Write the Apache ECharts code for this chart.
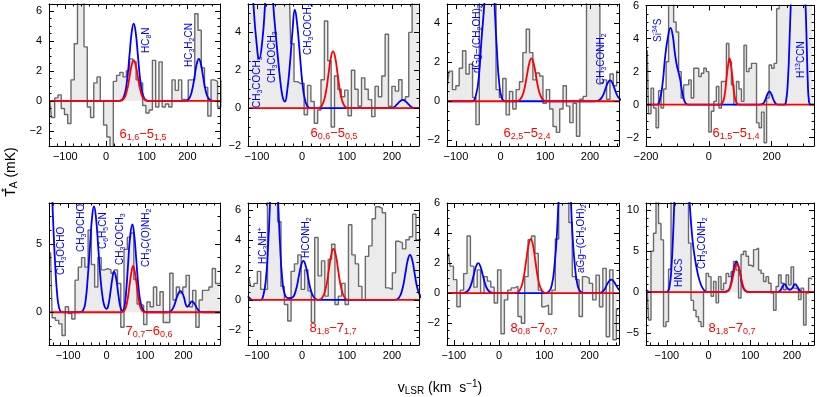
<!DOCTYPE html>
<html>
<head>
<meta charset="utf-8">
<script src="https://cdn.jsdelivr.net/npm/echarts@6/dist/echarts.min.js"></script>
<style>
  html, body { margin: 0; padding: 0; background: #fff; }
  #chart { width: 817px; height: 397px; }
</style>
</head>
<body>
<div id="chart"></div>
<script>
// ---- observed spectra: first channel centre, channel width (km/s), T_A* (mK) per channel
const chanStart = [-138, -119, -119, -196, -146, -118, -112, -147];
const chanWidth = [8, 7.5, 7.5, 8, 8.5, 7.5, 7.5, 6];

const obs1 = [0.0, -1.1, 0.2, 0.4, -0.5, -0.9, -1.5, 1.4, 3.8, 7.5, 7.5, 3.6, -0.4, -1.1, 1.2, 1.6, 0.0, -1.6, -2.4, -3.3,
  1.3, 1.7, 1.9, 1.6, 2.0, 2.8, 2.6, 1.4, 1.2, -0.3, -0.8, -0.6, 2.7, -0.4, 2.6, -0.4, -0.2, -0.4, 1.4, 0.7,
  1.4, 0.1, 0.0, 1.4, 1.4, 5.8, 4.7, 2.2, 0.9, -1.0, 1.4, 1.3, -0.4, 1.3];
const obs2 = [7, 7, 7, 7, 7, 7, 7, 7, 7, 7, 7, 7, 7, 3.4, 1.4, 1.3, 1.3, -0.35, 1.2, 0.35,
  -0.8, -0.1, 1.5, 4.6, 2.5, -1.0, 1.7, 1.0, 0.6, 0.95, -0.4, 2.0, 1.0, 0.1, 1.6, 1.0, 0.45, -0.45, 1.15, 0.6,
  1.7, 3.9, 0.1, 1.15, 0.9, 1.5, 0.45, 0.6, 4.0, 7, 7, 7];
const obs3 = [0.86, 1.55, 0.6, 0.8, 1.7, 2.6, 1.4, 1.9, 0.2, -1.2, 6, 7, 7, 7, 6, 0.6, 0.2, 1.17, -0.7, 0.5,
  -0.4, 0.6, 1.0, 2.5, 3.7, 2.5, 1.1, 1.45, 1.3, -0.1, 0.6, -0.4, -1.3, -1.6, -0.4, 0.8, -0.25, -1.1, -0.1, -1.8,
  0.1, 0.25, 6, 7, 7, 6, 0.95, 1.1, 0.1, 1.4, 0.8, 1.55];
const obs4 = [3.3, -0.55, 1.0, -0.2, -1.4, 0.85, -0.2, 0.95, 2.6, 6.5, 6.5, 5.0, 4.4, 2.0, 0.4, 1.2, 1.2, 1.5, 0.4, 2.2,
  2.2, 1.7, 1.9, 2.2, 2.0, -1.65, -0.4, 0.2, 1.1, -0.2, 1.4, 1.4, 3.7, 2.6, 1.2, 0.0, 1.4, 0.95, 0.2, 3.6,
  2.0, 2.2, 2.5, 2.5, -1.1, -1.4, -0.45, -2.3, 0.4, 2.4, 2.2, 2.5, 5.8, 7, 7, 7, 7, 7, 7, 7,
  7, 7, 7, 7, 7, 7, 7];
const obs5 = [4.4, -0.4, -0.6, -0.85, -1.7, 0.4, -0.1, -0.5, 2.35, 3.3, 4.0, 3.3, 6.0, 3.5, 1.85, 4.0, 3.1, 3.2, 3.1, 2.85,
  3.1, 2.1, -1.1, 4.6, 5.5, 5.8, 2.4, 0.6, 0.5, -0.9, 0.75, 0.4, 1.85, 0.5, 1.5, -0.75, -0.75, 2.85, 0.9, 1.85,
  1.4, 1.85, 2.7, 0.4, 1.6, -1.1, 0.9, 1.6, 1.6, 1.85, 3.2, 2.1, 2.1];
const obs6 = [1.5, 0.9, 1.1, 1.9, 0.7, 0.7, 7, 7, 7, 5.2, 0.9, -0.3, -1.4, 1.9, 2.4, 3.0, 0.7, 2.0, 0.6, -1.5,
  4.15, 1.6, 2.6, 0.25, 2.7, 3.7, -0.3, 0.25, 1.1, -0.3, 5.0, 3.0, 2.4, 0.9, 0.0, 2.9, 3.6, 5.4, 6.2, 6.1,
  5.8, 0.8, 0.7, 1.8, 3.9, 3.8, 3.4, 4.0, 4.2, 5.7, 4.0, 4.0];
const obs7 = [2.65, 1.8, 0.9, -0.9, 0.2, 1.3, 3.8, 1.8, 0.4, 1.55, 0.0, 1.1, 0.8, 0.4, -0.65, 1.55, -2.7, -0.45, 0.2, 0.35,
  0.45, -1.55, -2.0, 1.1, 3.55, 3.8, 2.65, 0.2, -0.9, -0.8, -1.4, 0.2, 3.6, 7, 7, 7, 4.7, 1.1, 0.9, -1.55,
  1.1, 1.0, 0.65, -0.45, 1.2, -0.9, 1.65, -2.9, 1.55, -3.1, -1.1];
const obs8 = [0.3, -3.4, 5.0, 7.2, 12, 8.4, 6.4, -4.2, -3.6, 2.8, 12, 12, 12, 12, 12, 12, 12, 6.0, -1.0, -2.2,
  -3.0, -3.6, -4.2, 0.0, 2.3, 1.9, -0.5, 1.3, -1.3, 1.9, 0.3, 1.1, 2.3, 1.9, 2.5, 3.75, 2.7, -0.7, 4.6, 5.0,
  4.4, 3.3, 3.1, 5.2, 5.4, 2.7, 2.3, 1.3, 1.9, 1.1, -0.1, -2.2, 0.7, 2.1, 1.1, 0.3, 2.1, 0.9, 3.1, 0.5,
  0.3, -0.9, 0.5, -4.0, -0.1, 1.7, 1.6];

// ---- full model (blue), [v, T]
const blue1 = [[-140, 0], [33, 0], [43, 0.23], [51, 1.22], [58, 3.13], [63, 4.54], [68, 5.15], [73, 4.54], [78, 3.13], [85, 1.22], [93, 0.23], [103, 0],
  [193, 0], [203, 0.12], [211, 0.66], [218, 1.7], [223, 2.47], [228, 2.8], [233, 2.47], [238, 1.7], [245, 0.66], [253, 0.12], [263, 0], [280, 0]];
const blue2 = [[-120, 8.5], [-114, 7.4], [-108, 5.5], [-102, 3.7], [-95, 2.6], [-88, 3.6], [-82, 5.5], [-77, 7.4], [-73, 8.2], [-69, 7.4], [-64, 5.5],
  [-58, 3.8], [-52, 2.3], [-46, 1.0], [-42, 0.5], [-38, 0.35], [-33, 0.9], [-27, 2.3], [-21, 4.1], [-16, 5.2], [-11, 4.5], [-5, 2.9], [1, 1.3],
  [7, 0.4], [14, 0.05], [22, 0], [195, 0], [205, 0.06], [211, 0.2], [218, 0.36], [224, 0.44], [230, 0.36], [237, 0.2], [243, 0.06], [253, 0], [260, 0]];
const blue3 = [[-120, 0], [-64, 0], [-56, 0.25], [-49, 1.2], [-43, 3.1], [-36, 5.2], [-31, 7.8], [-25, 9.5], [-19, 7.8], [-14, 5.2], [-8, 2.5], [-3, 0.9],
  [3, 0.15], [11, 0], [210, 0], [220, 0.05], [228, 0.25], [235, 0.65], [240, 0.95], [245, 1.07], [250, 0.95], [255, 0.65], [262, 0.25], [270, 0.05]];
const blue4 = [[-200, 0], [-165, 0], [-156, 0.3], [-147, 1.3], [-139, 2.9], [-130, 4.1], [-122, 4.65], [-115, 4.2], [-108, 3.1], [-102, 2.4], [-97, 2.0],
  [-91, 1.5], [-85, 0.8], [-78, 0.25], [-70, 0.02], [-62, 0], [160, 0], [172, 0.05], [180, 0.3], [186, 0.6], [193, 0.8], [200, 0.6], [206, 0.3],
  [214, 0.05], [222, 0], [240, 0], [246, 0.2], [252, 1.5], [257, 3.8], [261, 6], [268, 9], [285, 11], [300, 9], [308, 6], [312, 3.5], [315, 1.5],
  [319, 0.2], [325, 0], [335, 0]];
const blue5 = [[-150, 13], [-144, 10], [-139, 6.5], [-134, 3.5], [-129, 1.4], [-124, 0.35], [-118, 0.03], [-110, 0], [-70, 0], [-61, 0.15], [-55, 0.8],
  [-49, 2.6], [-43, 5.0], [-38, 6.9], [-33, 7.75], [-28, 7.0], [-22, 4.8], [-16, 2.5], [-10, 1.0], [-5, 0.4], [0, 0.25], [5, 0.6], [10, 1.5],
  [15, 2.5], [19, 2.97], [24, 2.6], [30, 1.4], [36, 0.35], [41, 0.1], [46, 0.35], [51, 1.6], [56, 3.6], [61, 5.5], [67, 6.44], [72, 5.6],
  [77, 3.9], [83, 1.8], [90, 0.5], [97, 0.08], [104, 0], [160, 0], [168, 0.1], [176, 0.5], [183, 1.1], [192, 1.55], [200, 1.2], [206, 0.55],
  [210, 0.4], [215, 0.55], [222, 0.8], [229, 0.6], [236, 0.25], [244, 0.03], [252, 0], [295, 0]];
const blue6 = [[-120, 0.25], [-115, 0.08], [-109, 0], [-92, 0], [-86, 0.3], [-80, 1.45], [-75, 3.8], [-71, 6.5], [-67, 9.2], [-62, 10.7], [-57, 9.2],
  [-53, 6.5], [-49, 3.8], [-44, 1.45], [-38, 0.35], [-30, 0.12], [-22, 0.15], [-14, 0.61], [-7, 1.58], [-2, 2.29], [3, 2.6], [8, 2.29], [13, 1.58],
  [20, 0.61], [28, 0.11], [38, 0], [205, 0], [215, 0.13], [223, 0.71], [230, 1.82], [235, 2.65], [240, 3.0], [245, 2.65], [250, 1.82],
  [257, 0.71], [265, 0.13]];
const blue7 = [[-115, 0], [-81, 0], [-71, 0.09], [-63, 0.47], [-56, 1.21], [-51, 1.76], [-46, 2.0], [-41, 1.76], [-36, 1.21], [-29, 0.47], [-21, 0.09],
  [-11, 0], [100, 0], [110, 0.1], [117, 0.6], [123, 2.0], [128, 4.0], [133, 7.5], [139, 11.5], [145, 14], [151, 11.5], [157, 7.5], [162, 4.0],
  [167, 2.0], [173, 0.6], [180, 0.1], [190, 0], [215, 0], [225, 0.04], [232, 0.2], [238, 0.55], [243, 0.79], [248, 0.9], [253, 0.79],
  [258, 0.55], [265, 0.2]];
const blue8 = [[-150, 0.3], [-145, 0.1], [-139, 0], [-106, 0], [-98, 0.1], [-93, 0.9], [-89, 3.0], [-85, 7.0], [-81, 12], [-72, 19], [-62, 20],
  [-52, 16], [-46, 11.5], [-42, 8.5], [-38, 6.2], [-34, 4.6], [-26, 2.3], [-18, 0.9], [-10, 0.2], [-3, 0], [30, 0], [46, 0.17], [53, 0.88],
  [58, 2.3], [63, 3.3], [67, 3.75], [71, 3.3], [76, 2.3], [81, 0.88], [88, 0.17], [100, 0], [160, 0], [168, 0.05], [174, 0.35], [178, 0.75],
  [182, 1.0], [186, 0.8], [190, 0.45], [195, 0.3], [200, 0.45], [204, 0.8], [208, 1.0], [212, 0.75], [217, 0.35], [222, 0.05], [230, 0], [253, 0]];

// ---- single-transition model (red), [v, T]
const red1 = [[-140, 0], [33, 0], [43, 0.12], [51, 0.64], [58, 1.64], [63, 2.38], [68, 2.7], [73, 2.38], [78, 1.64], [85, 0.64], [93, 0.12], [103, 0], [280, 0]];
const red2 = [[-120, 0], [34, 0], [44, 0.13], [52, 0.71], [59, 1.82], [64, 2.65], [69, 3.0], [74, 2.65], [79, 1.82], [86, 0.71], [94, 0.13], [104, 0], [260, 0]];
const red3 = [[-120, 0], [34, 0], [44, 0.1], [52, 0.52], [59, 1.34], [64, 1.94], [69, 2.2], [74, 1.94], [79, 1.34], [86, 0.52], [94, 0.1], [104, 0], [265, 0]];
const red4 = [[-200, 0], [35, 0], [44, 0.12], [51, 0.66], [57, 1.7], [62, 2.47], [66, 2.8], [70, 2.47], [75, 1.7], [81, 0.66], [88, 0.12], [97, 0], [335, 0]];
const red5 = [[-150, 0], [38, 0], [47, 0.15], [54, 0.85], [60, 2.06], [65, 3.0], [69, 3.4], [73, 3.0], [78, 2.06], [84, 0.85], [91, 0.15], [100, 0], [295, 0]];
const red6 = [[-120, 0], [35, 0], [45, 0.15], [53, 0.8], [60, 2.06], [65, 3.0], [70, 3.4], [75, 3.0], [80, 2.06], [87, 0.8], [95, 0.15], [105, 0], [260, 0]];
const red7 = [[-115, 0], [35, 0], [45, 0.16], [53, 0.85], [60, 2.19], [65, 3.18], [70, 3.6], [75, 3.18], [80, 2.19], [87, 0.85], [95, 0.16], [105, 0], [265, 0]];
const red8 = [[-150, 0], [38, 0], [47, 0.15], [53.5, 0.82], [59.5, 2.12], [63.75, 3.08], [68, 3.5], [72.25, 3.08], [76.5, 2.12], [82.5, 0.82], [89, 0.15], [98, 0], [253, 0]];

// ---- axes
const xRange = [[-140, 280], [-120, 260], [-120, 265], [-200, 335], [-150, 295], [-120, 260], [-115, 265], [-150, 253]];
const yRange = [[-3, 6.45], [-2, 5.5], [-2.3, 5], [-2.5, 6], [-2.4, 8], [-3, 6.45], [-3.45, 6], [-6.45, 10.9]];
const xMajor = [[-100, 0, 100, 200], [-100, 0, 100, 200], [-100, 0, 100, 200], [-200, 0, 200],
  [-100, 0, 100, 200], [-100, 0, 100, 200], [-100, 0, 100, 200], [-100, 0, 100, 200]];
const yMajor = [[-2, 0, 2, 4, 6], [-2, 0, 2, 4], [-2, 0, 2, 4], [-2, 0, 2, 4, 6], [0, 5], [-2, 0, 2, 4, 6], [-2, 0, 2, 4, 6], [-5, 0, 5, 10]];
const xMinorStep = [20, 20, 20, 50, 20, 20, 20, 20];
const yMinorStep = [0.5, 0.5, 0.5, 0.5, 1, 0.5, 0.5, 1];

// ---- labels
const redLabels = ['6_{1,6}−5_{1,5}', '6_{0,6}−5_{0,5}', '6_{2,5}−5_{2,4}', '6_{1,5}−5_{1,4}',
  '7_{0,7}−6_{0,6}', '8_{1,8}−7_{1,7}', '8_{0,8}−7_{0,7}', '8_{1,8}−7_{0,7}'];
const blueLabels = [
  ['HC_{8}N', 146, 53], ['HC_{3}H_{2}CN', 189, 67],
  ['CH_{3}COCH_{3}', 257, 108], ['CH_{3}COCH_{3}', 272, 83], ['CH_{3}COCH_{3}', 308, 55],
  ['dGg−(CH_{2}OH)_{2}', 477, 73], ['CH_{3}CONH_{2}', 601, 85],
  ['Si^{34}S', 658, 42], ['H^{13}CCN', 801, 78],
  ['CH_{3}OCHO', 61, 275], ['CH_{3}OCHO', 81, 252], ['C_{6}H_{5}CN', 103, 249], ['CH_{3}COCH_{3}', 120, 265], ['CH_{3}C(O)NH_{2}', 146, 267],
  ['HC_{3}NH^{+}', 263, 264], ['HCONH_{2}', 306, 258],
  ['aGg−(CH_{2}OH)_{2}', 581, 273],
  ['HNCS', 679, 287], ['CH_{3}CONH_{2}', 702, 269]
];

const FONT = '"Liberation Sans", Arial, Helvetica, sans-serif';
const obs = [obs1, obs2, obs3, obs4, obs5, obs6, obs7, obs8];
const blue = [blue1, blue2, blue3, blue4, blue5, blue6, blue7, blue8];
const red = [red1, red2, red3, red4, red5, red6, red7, red8];

// panel frames in px: left, top, width
const frames = [[49, 4, 171], [248, 4, 171], [447, 4, 172], [646, 4, 168],
  [49, 203, 171], [248, 203, 171], [447, 203, 172], [646, 203, 168]];
const redPos = [[143, 134], [334, 133], [527, 133], [736, 133], [149, 331], [333, 328], [534, 328], [732, 328]];

function rich(str) {
  return str.replace(/([^_^{}]+)|_\{([^}]*)\}|\^\{([^}]*)\}/g,
    (m, a, b, c) => a !== undefined ? '{n|' + a + '}' : b !== undefined ? '{s|' + b + '}' : '{p|' + c + '}');
}
function richStyle(color, size, sub) {
  const base = { fill: color, fontFamily: FONT };
  return {
    n: Object.assign({ fontSize: size, lineHeight: size + 3 }, base),
    s: Object.assign({ fontSize: sub, lineHeight: sub - 1, verticalAlign: 'bottom' }, base),
    p: Object.assign({ fontSize: sub, lineHeight: sub - 1, verticalAlign: 'top' }, base)
  };
}
function minors(range, step, majors) {
  const out = [];
  const start = Math.ceil(range[0] / step - 1e-9) * step;
  for (let v = start; v <= range[1] + 1e-9; v += step) {
    const r = Math.round(v * 1000) / 1000;
    if (majors.indexOf(r) < 0) out.push(r);
  }
  return out;
}
const fmtNum = v => (v < 0 ? '−' + Math.abs(v) : String(v));

function axis(p, pos, range, ticks, len, line, labels, margin) {
  return {
    type: 'value', gridIndex: p, position: pos, min: range[0], max: range[1], z: 10,
    splitLine: { show: false },
    axisLine: { show: line, onZero: false, lineStyle: { color: '#000', width: 1 } },
    axisTick: { show: true, inside: true, length: len, customValues: ticks, lineStyle: { color: '#000', width: 1 } },
    axisLabel: labels
      ? { show: true, customValues: ticks, formatter: fmtNum, color: '#000', fontSize: 11, fontFamily: FONT, margin: margin }
      : { show: false }
  };
}

const grid = [], xAxis = [], yAxis = [], series = [], graphic = [];
for (let p = 0; p < 8; p++) {
  const f = frames[p];
  grid.push({ left: f[0], top: f[1], width: f[2], height: 142 });
  const xm = minors(xRange[p], xMinorStep[p], xMajor[p]);
  const ym = minors(yRange[p], yMinorStep[p], yMajor[p]);
  xAxis.push(axis(p, 'bottom', xRange[p], xMajor[p], 5, true, true, 5));
  xAxis.push(axis(p, 'bottom', xRange[p], xm, 2.5, false, false));
  xAxis.push(axis(p, 'top', xRange[p], xMajor[p], 5, true, false));
  xAxis.push(axis(p, 'top', xRange[p], xm, 2.5, false, false));
  yAxis.push(axis(p, 'left', yRange[p], yMajor[p], 5, true, true, 7));
  yAxis.push(axis(p, 'left', yRange[p], ym, 2.5, false, false));
  yAxis.push(axis(p, 'right', yRange[p], yMajor[p], 5, true, false));
  yAxis.push(axis(p, 'right', yRange[p], ym, 2.5, false, false));

  const hist = obs[p].map((t, i) => [chanStart[p] + i * chanWidth[p], t]);
  const common = { type: 'line', xAxisIndex: 4 * p, yAxisIndex: 4 * p, symbol: 'none', showSymbol: false, silent: true, clip: true };
  series.push(Object.assign({}, common, {
    data: hist, step: 'middle', z: 2,
    lineStyle: { color: '#6a6a6a', width: 1.4 },
    areaStyle: { color: '#ebebeb', opacity: 1 }
  }));
  series.push(Object.assign({}, common, { data: blue[p], smooth: 0.5, z: 3, lineStyle: { color: '#0000ff', width: 1.8 } }));
  series.push(Object.assign({}, common, { data: red[p], smooth: 0.5, z: 4, lineStyle: { color: '#ff0000', width: 1.8 } }));

  graphic.push({
    type: 'text', x: redPos[p][0], y: redPos[p][1], z: 20, silent: true,
    style: { text: rich(redLabels[p]), rich: richStyle('#ff0000', 13, 9), align: 'center', verticalAlign: 'middle' }
  });
}

blueLabels.forEach(l => {
  graphic.push({
    type: 'text', x: l[1], y: l[2], rotation: Math.PI / 2, z: 20, silent: true,
    style: { text: rich(l[0]), rich: richStyle('#0000ff', 10, 7), align: 'left', verticalAlign: 'middle' }
  });
});

// axis titles
graphic.push({
  type: 'text', x: 11, y: 172, rotation: Math.PI / 2, z: 20, silent: true,
  style: { text: rich('T_{A} (mK)'), rich: richStyle('#000', 14, 10), align: 'center', verticalAlign: 'middle' }
});
graphic.push({
  type: 'text', x: 6, y: 190, rotation: Math.PI / 2, z: 20, silent: true,
  style: { text: '*', fill: '#000', fontSize: 11, fontFamily: FONT, align: 'center', verticalAlign: 'middle' }
});
graphic.push({
  type: 'text', x: 440, y: 388, z: 20, silent: true,
  style: { text: rich('v_{LSR} (km  s^{−1})'), rich: richStyle('#000', 14, 10), align: 'center', verticalAlign: 'middle' }
});

const chart = echarts.init(document.getElementById('chart'), null, { renderer: 'canvas' });
chart.setOption({ animation: false, grid, xAxis, yAxis, series, graphic });
</script>
</body>
</html>
